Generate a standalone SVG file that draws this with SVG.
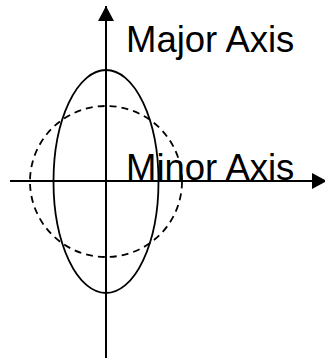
<svg xmlns="http://www.w3.org/2000/svg" width="325" height="358" viewBox="0 0 325 358">
<style>
.axis{stroke:#000;stroke-width:2;fill:none}
.shape{stroke:#000;stroke-width:1.8;fill:none}
.dash{stroke-dasharray:7 5}
.lbl{font-family:"Liberation Sans",Arial,sans-serif;font-size:36.5px;fill:#000}
</style>
<defs>
<marker id="ah" markerUnits="userSpaceOnUse" markerWidth="16" markerHeight="16" refX="15" refY="8" orient="auto">
<path d="M0,0 L15,8 L0,16 Z" fill="#000"/>
</marker>
</defs>
<g id="shapes">
<g id="ellipse"><ellipse class="shape" cx="106" cy="181.5" rx="52.5" ry="111.5"/></g>
<g id="circle"><ellipse class="shape dash" cx="106" cy="181.5" rx="76" ry="75.5"/></g>
</g>
<g id="connectors">
<line class="axis" x1="106" y1="358" x2="106" y2="6" marker-end="url(#ah)"/>
<line class="axis" x1="10" y1="181" x2="327" y2="181" marker-end="url(#ah)"/>
</g>
<g id="labels">
<text class="lbl" x="126" y="52">Major Axis</text>
<text class="lbl" x="126" y="180">Minor Axis</text>
</g>
</svg>
